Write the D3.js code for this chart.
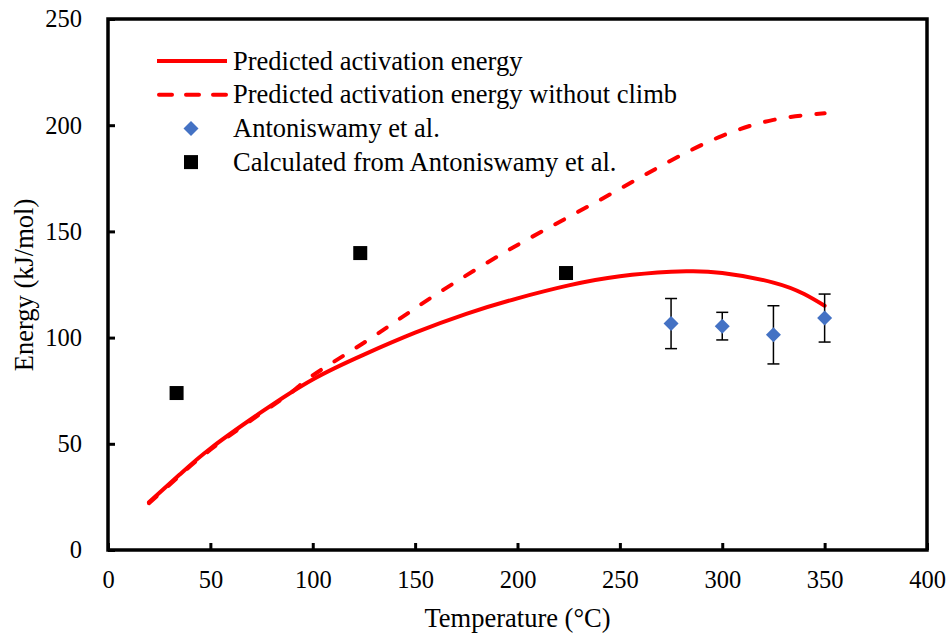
<!DOCTYPE html>
<html>
<head>
<meta charset="utf-8">
<script src="https://cdn.jsdelivr.net/npm/d3@7"></script>
<style>
  body { margin: 0; background: #fff; }
  text { font-family: "Liberation Serif", "Times New Roman", serif; fill: #000; }
</style>
</head>
<body>
<div class="chart"></div>
<script>
// data
var solidTemp = [20, 35, 50, 75, 100, 125, 150, 175, 200, 225, 250, 275, 285, 300, 325, 340, 350];
var solidEnergy = [22.5, 35.5, 47.8, 65, 80.3, 92, 102.3, 111.2, 118.5, 124.6, 128.9, 131, 131.2, 130.4, 125.9, 120.5, 115];

var dashTemp = [20, 35, 50, 75, 90, 100, 125, 150, 175, 200, 225, 250, 275, 300, 325, 350];
var dashEnergy = [22, 35, 47.2, 64.5, 74.5, 82.2, 97.6, 113.8, 129.3, 143.6, 156.8, 170, 183.4, 195, 202.5, 205.6];

var antTemp = [275, 300, 325, 350];
var antEnergy = [106.6, 105.4, 101.3, 109.2];
var antErr = [11.8, 6.5, 13.7, 11.3];

var calcTemp = [33.5, 123.2, 223.7];
var calcEnergy = [73.9, 139.8, 130.4];

var xTicks = [0, 50, 100, 150, 200, 250, 300, 350, 400];
var yTicks = [0, 50, 100, 150, 200, 250];

var legendLabels = ["Predicted activation energy",
                    "Predicted activation energy without climb",
                    "Antoniswamy et al.",
                    "Calculated from Antoniswamy et al."];

var svgWidth = 951;
var svgHeight = 633;
var margin = { top: 19, right: 24, bottom: 83, left: 108 };
var chartWidth = svgWidth - margin.left - margin.right;
var chartHeight = svgHeight - margin.top - margin.bottom;

var svg = d3.select(".chart").append("svg")
    .attr("width", svgWidth)
    .attr("height", svgHeight);

var chartGroup = svg.append("g")
    .attr("transform", `translate(${margin.left}, ${margin.top})`);

var xScale = d3.scaleLinear().domain([0, 400]).range([0, chartWidth]);
var yScale = d3.scaleLinear().domain([0, 250]).range([chartHeight, 0]);

// axes, ticks pointing inward
var xAxis = d3.axisBottom(xScale).tickValues(xTicks).tickSizeInner(-7).tickSizeOuter(0).tickPadding(21);
var yAxis = d3.axisLeft(yScale).tickValues(yTicks).tickSizeInner(-7).tickSizeOuter(0).tickPadding(26);

var gx = chartGroup.append("g")
    .attr("transform", `translate(0, ${chartHeight})`)
    .call(xAxis);
var gy = chartGroup.append("g").call(yAxis);

[gx, gy].forEach(function (g) {
    g.select(".domain").remove();
    g.selectAll(".tick line").attr("stroke", "#000").attr("stroke-width", 3);
    g.selectAll(".tick text")
        .style("font-family", '"Liberation Serif", "Times New Roman", serif')
        .style("font-size", "24.5px")
        .attr("fill", "#000");
});

// frame
chartGroup.append("rect")
    .attr("x", 0).attr("y", 0)
    .attr("width", chartWidth).attr("height", chartHeight)
    .attr("fill", "none")
    .attr("stroke", "#000")
    .attr("stroke-width", 3.5);

// axis titles
chartGroup.append("text")
    .attr("x", chartWidth / 2)
    .attr("y", chartHeight + 77)
    .style("text-anchor", "middle")
    .style("font-size", "26.5px")
    .text("Temperature (°C)");

chartGroup.append("text")
    .attr("transform", "rotate(-90)")
    .attr("x", -266)
    .attr("y", -75)
    .style("text-anchor", "middle")
    .style("font-size", "26.5px")
    .text("Energy (kJ/mol)");

// curves
var line = d3.line()
    .x(function (d) { return xScale(d[0]); })
    .y(function (d) { return yScale(d[1]); })
    .curve(d3.curveNatural);

var dashData = dashTemp.map(function (t, i) { return [t, dashEnergy[i]]; });
var solidData = solidTemp.map(function (t, i) { return [t, solidEnergy[i]]; });

chartGroup.append("path")
    .datum(dashData)
    .attr("d", line)
    .attr("fill", "none")
    .attr("stroke", "#ff0000")
    .attr("stroke-width", 4)
    .attr("stroke-linecap", "round")
    .attr("stroke-dasharray", "10,16");

chartGroup.append("path")
    .datum(solidData)
    .attr("d", line)
    .attr("fill", "none")
    .attr("stroke", "#ff0000")
    .attr("stroke-width", 4)
    .attr("stroke-linecap", "round");

// error bars
var antData = antTemp.map(function (t, i) { return { t: t, e: antEnergy[i], err: antErr[i] }; });

var bars = chartGroup.selectAll("g.errbar")
    .data(antData)
    .enter()
    .append("g")
    .classed("errbar", true);

bars.append("line")
    .attr("x1", function (d) { return xScale(d.t); })
    .attr("x2", function (d) { return xScale(d.t); })
    .attr("y1", function (d) { return yScale(d.e + d.err); })
    .attr("y2", function (d) { return yScale(d.e - d.err); })
    .attr("stroke", "#000").attr("stroke-width", 1.5);

[1, -1].forEach(function (s) {
    bars.append("line")
        .attr("x1", function (d) { return xScale(d.t) - 6; })
        .attr("x2", function (d) { return xScale(d.t) + 6; })
        .attr("y1", function (d) { return yScale(d.e + s * d.err); })
        .attr("y2", function (d) { return yScale(d.e + s * d.err); })
        .attr("stroke", "#000").attr("stroke-width", 1.5);
});

// diamonds
var diamond = "M0,-7.5L7.5,0L0,7.5L-7.5,0Z";
chartGroup.selectAll("path.diamond")
    .data(antData)
    .enter()
    .append("path")
    .attr("class", "diamond")
    .attr("d", diamond)
    .attr("transform", function (d) { return `translate(${xScale(d.t)}, ${yScale(d.e)})`; })
    .attr("fill", "#4472c4");

// squares
chartGroup.selectAll("rect.calc")
    .data(calcTemp)
    .enter()
    .append("rect")
    .attr("class", "calc")
    .attr("x", function (d) { return xScale(d) - 7; })
    .attr("y", function (d, i) { return yScale(calcEnergy[i]) - 7; })
    .attr("width", 14)
    .attr("height", 14)
    .attr("fill", "#000");

// legend
var legend = svg.append("g").attr("transform", "translate(157, 61)");
var rowGap = 33.7;

legend.append("line")
    .attr("x1", 0).attr("x2", 70).attr("y1", 0).attr("y2", 0)
    .attr("stroke", "#ff0000").attr("stroke-width", 4);
legend.append("line")
    .attr("x1", 2).attr("x2", 70).attr("y1", rowGap).attr("y2", rowGap)
    .attr("stroke", "#ff0000").attr("stroke-width", 4)
    .attr("stroke-linecap", "round")
    .attr("stroke-dasharray", "13,14");
legend.append("path")
    .attr("d", diamond)
    .attr("transform", `translate(34, ${rowGap * 2})`)
    .attr("fill", "#4472c4");
legend.append("rect")
    .attr("x", 27).attr("y", rowGap * 3 - 7)
    .attr("width", 14).attr("height", 14)
    .attr("fill", "#000");

legend.selectAll("text.leg")
    .data(legendLabels)
    .enter()
    .append("text")
    .attr("class", "leg")
    .attr("x", 76)
    .attr("y", function (d, i) { return i * rowGap; })
    .attr("dy", "0.33em")
    .style("font-size", "26.5px")
    .text(function (d) { return d; });
</script>
</body>
</html>
